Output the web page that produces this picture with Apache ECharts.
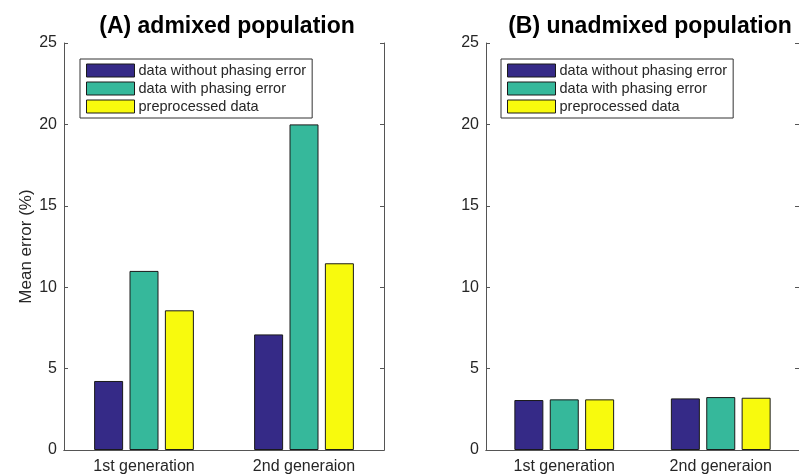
<!DOCTYPE html>
<html>
<head>
<meta charset="utf-8">
<title>Mean error</title>
<script src="https://cdn.jsdelivr.net/npm/echarts@6/dist/echarts.min.js"></script>
</head>
<body style="margin:0;padding:0;background:#fff">
<div id="chart" style="width:799px;height:476px;margin:0;padding:0"></div>
<script type="text/javascript">
// data
var categories = ['1st generation', '2nd generaion'];
var seriesNames = ['data without phasing error', 'data with phasing error', 'preprocessed data'];
var admixedNoErr = [4.24, 7.1];
var admixedWithErr = [11.0, 20.0];
var admixedPre = [8.58, 11.47];
var unadmixedNoErr = [3.07, 3.17];
var unadmixedWithErr = [3.11, 3.25];
var unadmixedPre = [3.11, 3.21];
var yTicks = [0, 5, 10, 15, 20, 25];

var colors = ['#352a87', '#36b89b', '#f8fa0d'];
var font = 'Liberation Sans, Arial, Helvetica, sans-serif';
var ink = '#262626';
var frame = '#555555';

var chart = echarts.init(document.getElementById('chart'));

function bar(name, data, idx, gi) {
    return {
        name: name,
        type: 'bar',
        xAxisIndex: gi * 2,
        yAxisIndex: gi * 2,
        data: data,
        barWidth: 29,
        barGap: '22%',
        itemStyle: { color: colors[idx], borderColor: '#1a1a1a', borderWidth: 1 },
        emphasis: { disabled: true }
    };
}

function xAxes(gi) {
    return [{
        type: 'category', gridIndex: gi, data: categories, position: 'bottom',
        axisLine: { lineStyle: { color: frame, width: 1 } },
        axisTick: { inside: true, alignWithLabel: true, length: 4, lineStyle: { color: frame } },
        axisLabel: { color: ink, fontSize: 16, fontFamily: font, margin: 9 }
    }, {
        type: 'category', gridIndex: gi, data: categories, position: 'top',
        axisLine: { lineStyle: { color: frame, width: 1 } },
        axisTick: { inside: true, alignWithLabel: true, length: 4, lineStyle: { color: frame } },
        axisLabel: { show: false }
    }];
}

function yAxes(gi, withName) {
    return [{
        type: 'value', gridIndex: gi, min: 0, max: 25, interval: 5, position: 'left',
        name: withName ? 'Mean error (%)' : '',
        nameLocation: 'middle', nameGap: 24, nameRotate: 90,
        nameTextStyle: { color: ink, fontSize: 17, fontFamily: font },
        axisLine: { show: true, lineStyle: { color: frame, width: 1 } },
        axisTick: { show: true, inside: true, length: 4, lineStyle: { color: frame } },
        axisLabel: { color: ink, fontSize: 16, fontFamily: font, margin: 7,
            formatter: function (v) { return yTicks.indexOf(v) >= 0 ? String(v) : ''; } },
        splitLine: { show: false }
    }, {
        type: 'value', gridIndex: gi, min: 0, max: 25, interval: 5, position: 'right',
        axisLine: { show: true, lineStyle: { color: frame, width: 1 } },
        axisTick: { show: true, inside: true, length: 4, lineStyle: { color: frame } },
        axisLabel: { show: false },
        splitLine: { show: false }
    }];
}

function legend(left) {
    return {
        left: left, top: 59, orient: 'vertical',
        data: seriesNames,
        itemWidth: 48, itemHeight: 13, itemGap: 3,
        padding: [4, 6, 4, 6],
        borderColor: '#333', borderWidth: 1, backgroundColor: '#fff',
        icon: 'rect',
        selectedMode: false,
        itemStyle: { borderColor: '#1a1a1a', borderWidth: 1 },
        textStyle: { color: ink, fontSize: 14.5, fontFamily: font, padding: [0, 0, 0, -1] }
    };
}

chart.setOption({
    animation: false,
    color: colors,
    title: [{
        text: '(A) admixed population', left: 222, top: 10, textAlign: 'center',
        textStyle: { color: '#000', fontSize: 23, fontWeight: 'bold', fontFamily: font }
    }, {
        text: '(B) unadmixed population', left: 645, top: 10, textAlign: 'center',
        textStyle: { color: '#000', fontSize: 23, fontWeight: 'bold', fontFamily: font }
    }],
    legend: [legend(80), legend(501)],
    grid: [
        { left: 64, top: 43, width: 320, height: 407 },
        { left: 486, top: 43, width: 320, height: 407 }
    ],
    xAxis: xAxes(0).concat(xAxes(1)),
    yAxis: yAxes(0, true).concat(yAxes(1, false)),
    series: [
        bar(seriesNames[0], admixedNoErr, 0, 0),
        bar(seriesNames[1], admixedWithErr, 1, 0),
        bar(seriesNames[2], admixedPre, 2, 0),
        bar(seriesNames[0], unadmixedNoErr, 0, 1),
        bar(seriesNames[1], unadmixedWithErr, 1, 1),
        bar(seriesNames[2], unadmixedPre, 2, 1)
    ]
});
</script>
</body>
</html>
